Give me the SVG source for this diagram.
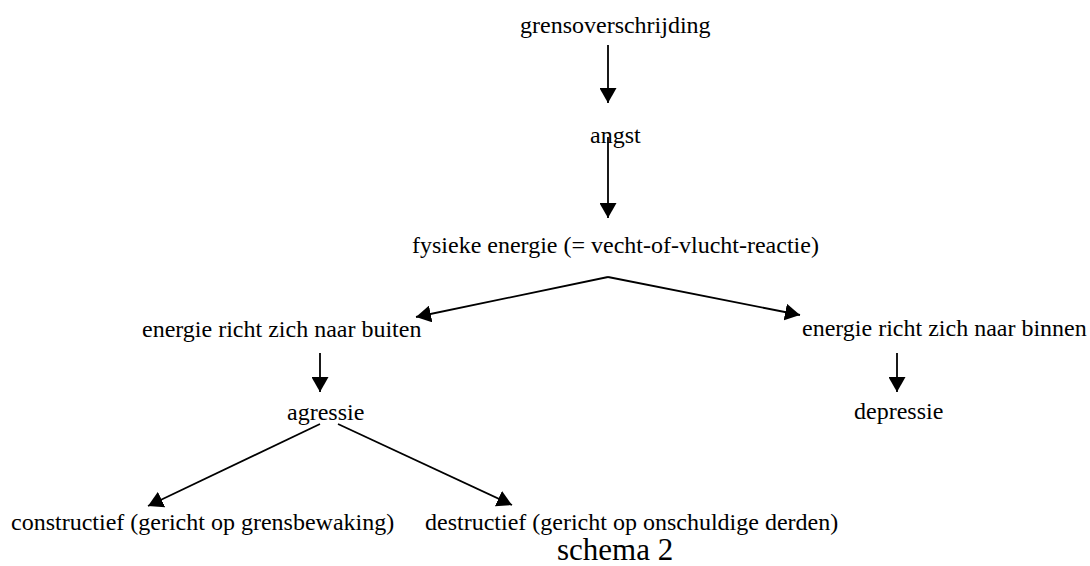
<svg xmlns="http://www.w3.org/2000/svg" width="1090" height="566" viewBox="0 0 1090 566">
  <style>
    .t { font-family: "Liberation Serif", "Times New Roman", serif; font-size: 24px; fill: #000; }
    .cap { font-family: "Liberation Serif", "Times New Roman", serif; font-size: 31px; fill: #000; }
    .c line { stroke: #000; stroke-width: 1.8; marker-end: url(#ah); }
  </style>
  <defs>
    <marker id="ah" viewBox="0 0 15 17" refX="15" refY="8.5" markerWidth="15" markerHeight="17" markerUnits="userSpaceOnUse" orient="auto">
      <path d="M0,0 L15,8.5 L0,17 z" fill="#000"/>
    </marker>
  </defs>
  <rect width="1090" height="566" fill="#fff"/>
  <g id="connectors" class="c">
    <line x1="608" y1="45" x2="608" y2="103"/>
    <line x1="608" y1="137" x2="608" y2="218"/>
    <line x1="608" y1="277" x2="416" y2="317"/>
    <line x1="608" y1="277" x2="800" y2="315"/>
    <line x1="320" y1="353" x2="320" y2="392"/>
    <line x1="897" y1="353" x2="897" y2="392"/>
    <line x1="320" y1="424" x2="148" y2="506"/>
    <line x1="338" y1="424" x2="512" y2="505"/>
  </g>
  <g id="n-grensoverschrijding"><text class="t" x="520" y="33">grensoverschrijding</text></g>
  <g id="n-angst"><text class="t" x="590" y="143">angst</text></g>
  <g id="n-fysieke"><text class="t" x="412" y="253">fysieke energie (= vecht-of-vlucht-reactie)</text></g>
  <g id="n-buiten"><text class="t" x="142" y="337">energie richt zich naar buiten</text></g>
  <g id="n-binnen"><text class="t" x="802" y="336">energie richt zich naar binnen</text></g>
  <g id="n-agressie"><text class="t" x="287" y="420">agressie</text></g>
  <g id="n-depressie"><text class="t" x="854" y="419">depressie</text></g>
  <g id="n-constructief"><text class="t" x="11" y="530">constructief (gericht op grensbewaking)</text></g>
  <g id="n-destructief"><text class="t" x="425" y="530">destructief (gericht op onschuldige derden)</text></g>
  <g id="caption"><text class="cap" x="557" y="560">schema 2</text></g>
</svg>
